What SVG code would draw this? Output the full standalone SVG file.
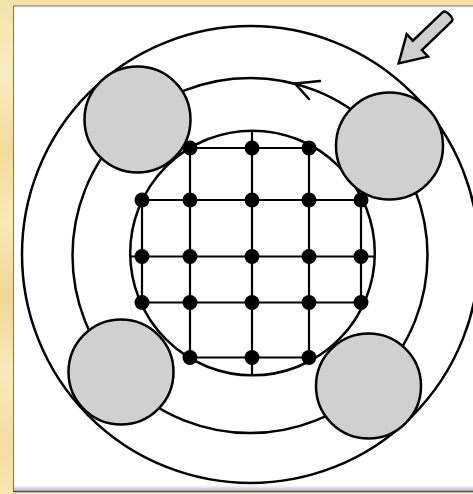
<svg xmlns="http://www.w3.org/2000/svg" width="473" height="494" viewBox="0 0 473 494">
  <defs>
    <linearGradient id="parch" x1="0" y1="0" x2="0" y2="1">
      <stop offset="0" stop-color="#f4e2a6"/>
      <stop offset="0.15" stop-color="#f8ecc2"/>
      <stop offset="0.3" stop-color="#f1dc9c"/>
      <stop offset="0.45" stop-color="#f7e8b6"/>
      <stop offset="0.6" stop-color="#efd898"/>
      <stop offset="0.75" stop-color="#f7e9bb"/>
      <stop offset="0.9" stop-color="#f2dea2"/>
      <stop offset="1" stop-color="#f6e6b0"/>
    </linearGradient>
    <linearGradient id="shadow" x1="0" y1="0" x2="0" y2="1">
      <stop offset="0" stop-color="#ffffff"/>
      <stop offset="1" stop-color="#b8b8c4"/>
    </linearGradient>
  </defs>
  <style>
    .ring { fill: none; stroke: #000; stroke-width: 2.5; }
    .pad { fill: #d0d0d0; stroke: #000; stroke-width: 2.5; }
    .grid line { stroke: #000; stroke-width: 2.2; }
    .dot { fill: #000; }
    .flow { fill: none; stroke: #000; stroke-width: 2.5; stroke-linecap: round; }
  </style>

  <!-- background -->
  <rect x="0" y="0" width="473" height="494" fill="url(#parch)"/>
  <rect x="13.5" y="6" width="470" height="485" fill="#ffffff" stroke="#6a6ac8" stroke-width="1"/>
  <rect x="14" y="485" width="459" height="6" fill="url(#shadow)"/>
  <line x1="13" y1="491.5" x2="473" y2="491.5" stroke="#50507a" stroke-width="1.5"/>

  <!-- rings -->
  <g id="rings">
    <circle class="ring" cx="250.5" cy="254.5" r="228.5"/>
    <circle class="ring" cx="250" cy="255.5" r="177.5"/>
    <circle class="ring" cx="252.5" cy="253" r="122.3"/>
  </g>

  <!-- gray pads -->
  <g id="pad-top-left"><circle class="pad" cx="137.5" cy="119.5" r="53"/></g>
  <g id="pad-top-right"><circle class="pad" cx="389.5" cy="146" r="53.5"/></g>
  <g id="pad-bottom-left"><circle class="pad" cx="121" cy="372" r="52.5"/></g>
  <g id="pad-bottom-right"><circle class="pad" cx="368.5" cy="386" r="52.5"/></g>

  <!-- grid -->
  <g id="grid" class="grid">
    <line x1="190" y1="148" x2="309" y2="148"/>
    <line x1="142" y1="200" x2="361" y2="200"/>
    <line x1="130" y1="256.5" x2="375" y2="256.5"/>
    <line x1="142" y1="302.5" x2="361" y2="302.5"/>
    <line x1="190" y1="357.5" x2="309" y2="357.5"/>
    <line x1="142" y1="200" x2="142" y2="302.5"/>
    <line x1="190" y1="148" x2="190" y2="357.5"/>
    <line x1="252" y1="131" x2="252" y2="375"/>
    <line x1="309" y1="148" x2="309" y2="357.5"/>
    <line x1="361" y1="200" x2="361" y2="302.5"/>
  </g>
  <g id="dots">
    <circle class="dot" cx="190" cy="148" r="7.5"/>
    <circle class="dot" cx="252" cy="148" r="7.5"/>
    <circle class="dot" cx="309" cy="148" r="7.5"/>
    <circle class="dot" cx="142" cy="200" r="7.5"/>
    <circle class="dot" cx="190" cy="200" r="7.5"/>
    <circle class="dot" cx="252" cy="200" r="7.5"/>
    <circle class="dot" cx="309" cy="200" r="7.5"/>
    <circle class="dot" cx="361" cy="200" r="7.5"/>
    <circle class="dot" cx="142" cy="256.5" r="7.5"/>
    <circle class="dot" cx="190" cy="256.5" r="7.5"/>
    <circle class="dot" cx="252" cy="256.5" r="7.5"/>
    <circle class="dot" cx="309" cy="256.5" r="7.5"/>
    <circle class="dot" cx="361" cy="256.5" r="7.5"/>
    <circle class="dot" cx="142" cy="302.5" r="7.5"/>
    <circle class="dot" cx="190" cy="302.5" r="7.5"/>
    <circle class="dot" cx="252" cy="302.5" r="7.5"/>
    <circle class="dot" cx="309" cy="302.5" r="7.5"/>
    <circle class="dot" cx="361" cy="302.5" r="7.5"/>
    <circle class="dot" cx="190" cy="357.5" r="7.5"/>
    <circle class="dot" cx="252" cy="357.5" r="7.5"/>
    <circle class="dot" cx="309" cy="357.5" r="7.5"/>
  </g>

  <!-- connectors / arrows -->
  <g id="connectors">
    <polyline class="flow" points="320,81 295,83.5 309,99"/>
    <g transform="translate(447,17) rotate(136.2)">
      <path d="M0,-6.5 L41,-6.5 L41,-15.5 L67,0 L41,15.5 L41,6.5 L0,6.5 Q-3.5,6.5 -3.5,0 Q-3.5,-6.5 0,-6.5 Z" fill="#d0d0d0" stroke="#000" stroke-width="2.4" stroke-linejoin="miter"/>
    </g>
  </g>
</svg>
